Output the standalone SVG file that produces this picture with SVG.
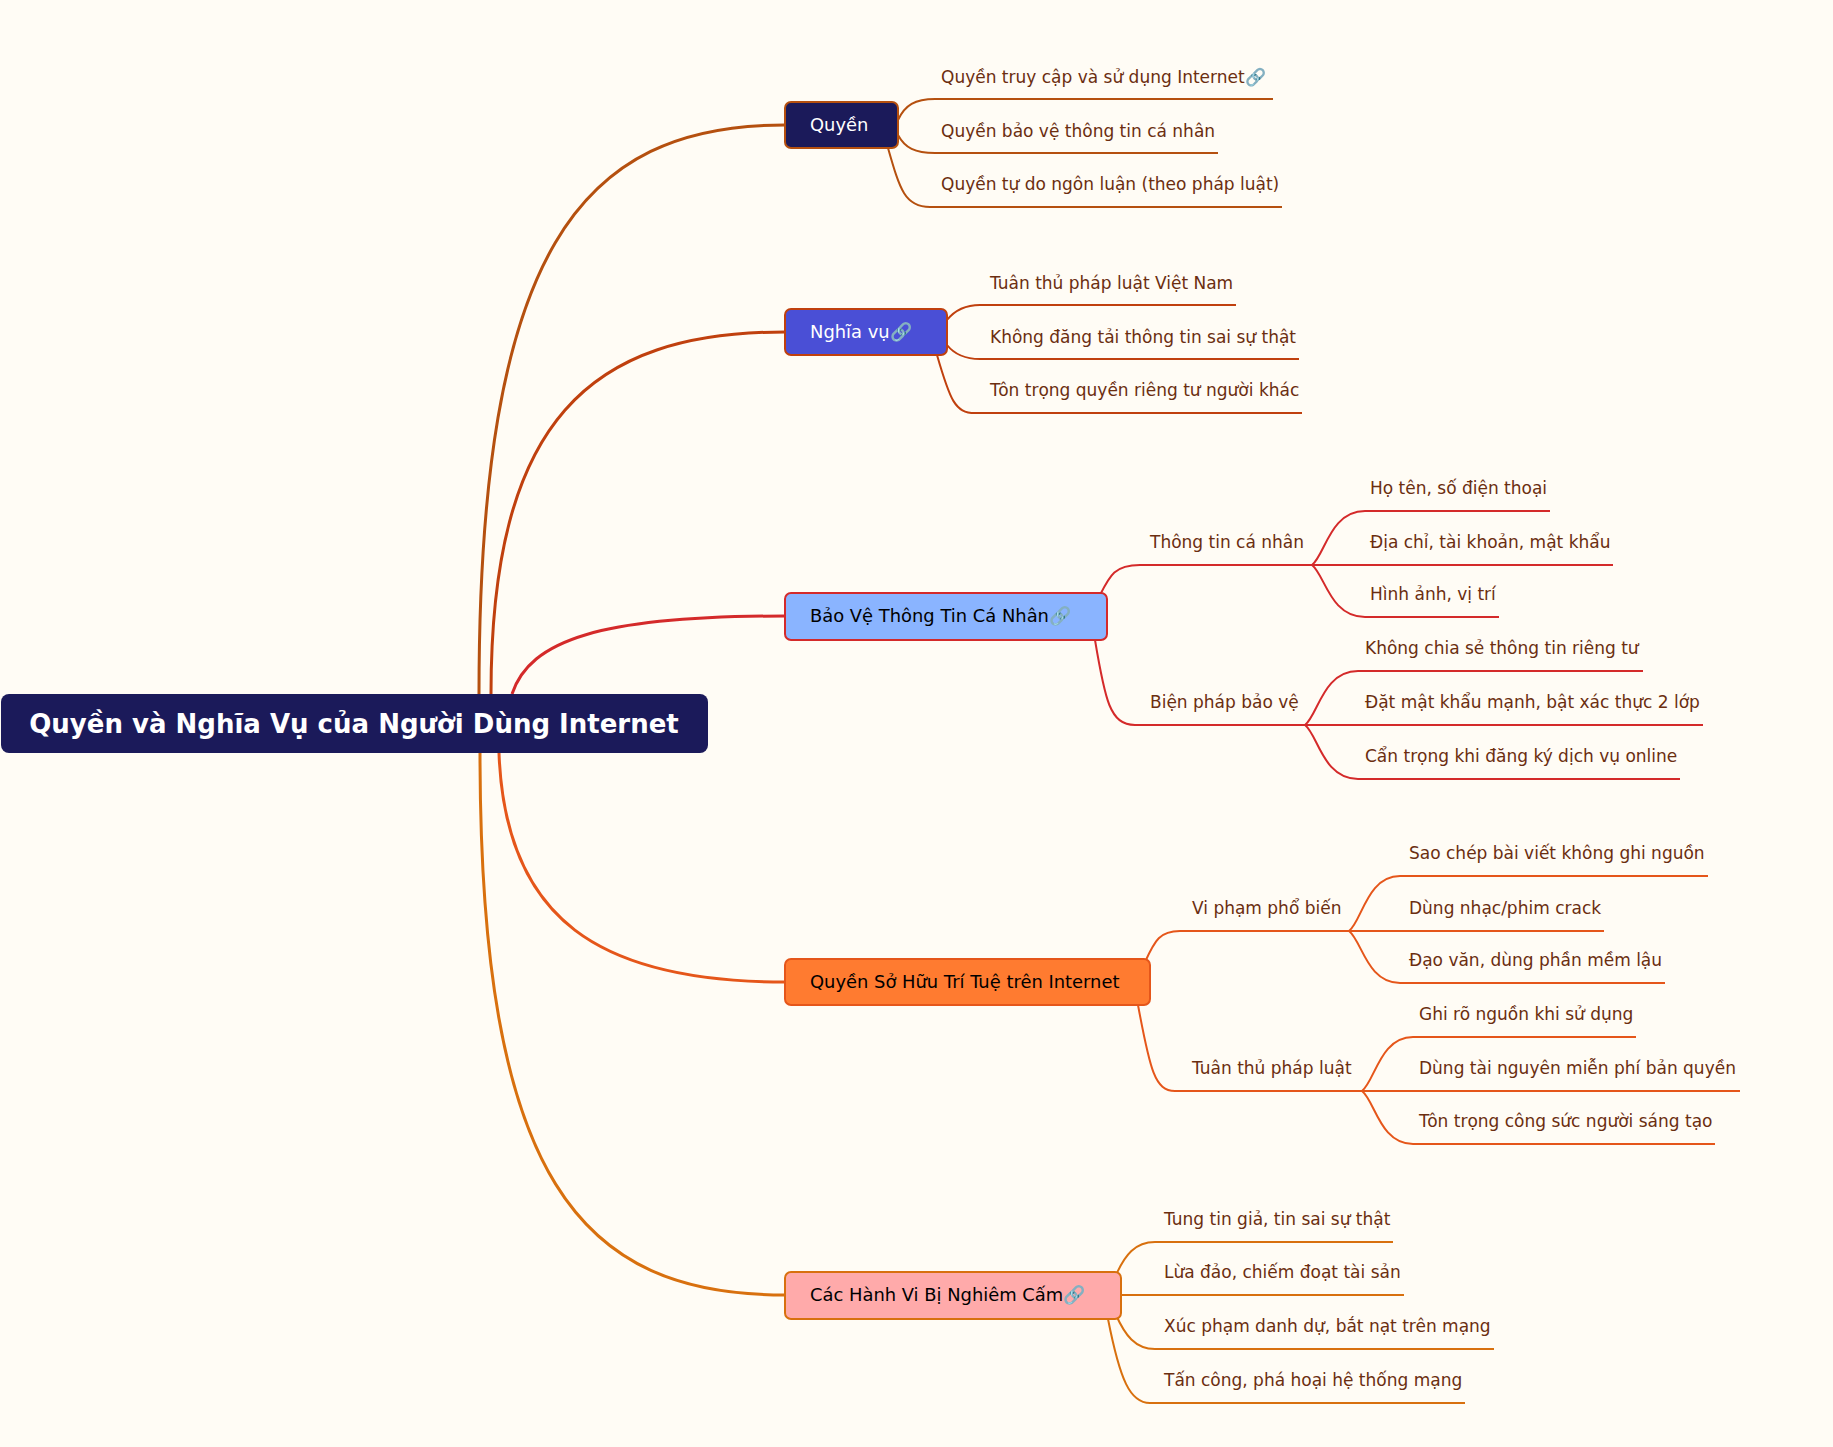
<svg xmlns="http://www.w3.org/2000/svg" width="1833" height="1447" viewBox="0 0 1833 1447">
<style>
text{font-family:"DejaVu Sans",sans-serif}
.leaf{font-size:17px;fill:#6b2e10}
.box{font-size:17.9px}
.c{fill:none;stroke-width:2}
.m{fill:none;stroke-width:3}
</style>
<rect width="1833" height="1447" fill="#fffcf5"/>
<g id="connectors">
<path class="m" stroke="#b5500f" d="M479 694 C479 250 580 125 785 125"/>
<path class="m" stroke="#c0400e" d="M491 694 C491 420 590 332 785 332"/>
<path class="m" stroke="#d42a2a" d="M512 694 C530 640 600 616 785 616"/>
<path class="m" stroke="#e5561a" d="M499 753 C505 920 600 982 785 982"/>
<path class="m" stroke="#d8700e" d="M480 753 C480 1180 580 1295 785 1295"/>
<g stroke="#b5500f">
<path class="c" d="M898 120 C905 105 915 99 935 99 L1273 99"/>
<path class="c" d="M898 135 C905 148 915 153 935 153 L1218 153"/>
<path class="c" d="M888 148 C900 190 905 207 930 207 L1282 207"/>
</g>
<g stroke="#c0400e">
<path class="c" d="M947 320 C955 310 965 305 980 305 L1236 305"/>
<path class="c" d="M947 345 C955 355 965 359 980 359 L1299 359"/>
<path class="c" d="M937 355 C950 400 955 413 975 413 L1302 413"/>
</g>
<g stroke="#d42a2a">
<path class="c" d="M1100 595 C1110 575 1115 565 1140 565 L1312 565"/>
<path class="c" d="M1095 640 C1105 700 1110 725 1135 725 L1305 725"/>
<path class="c" d="M1312 565 C1325 555 1330 511 1365 511 L1550 511"/>
<path class="c" d="M1312 565 L1613 565"/>
<path class="c" d="M1312 565 C1325 575 1330 617 1365 617 L1499 617"/>
<path class="c" d="M1305 725 C1318 715 1323 671 1358 671 L1643 671"/>
<path class="c" d="M1305 725 L1703 725"/>
<path class="c" d="M1305 725 C1318 735 1323 779 1358 779 L1680 779"/>
</g>
<g stroke="#e5561a">
<path class="c" d="M1145 962 C1155 940 1160 931 1180 931 L1349 931"/>
<path class="c" d="M1138 1005 C1150 1070 1155 1091 1175 1091 L1362 1091"/>
<path class="c" d="M1349 931 C1362 921 1367 876 1400 876 L1708 876"/>
<path class="c" d="M1349 931 L1604 931"/>
<path class="c" d="M1349 931 C1362 941 1367 983 1400 983 L1665 983"/>
<path class="c" d="M1362 1091 C1375 1081 1380 1037 1413 1037 L1636 1037"/>
<path class="c" d="M1362 1091 L1740 1091"/>
<path class="c" d="M1362 1091 C1375 1101 1380 1144 1413 1144 L1715 1144"/>
</g>
<g stroke="#d8700e">
<path class="c" d="M1116 1275 C1125 1255 1135 1242 1155 1242 L1393 1242"/>
<path class="c" d="M1121 1295 L1404 1295"/>
<path class="c" d="M1116 1315 C1125 1335 1135 1349 1155 1349 L1494 1349"/>
<path class="c" d="M1108 1319 C1120 1380 1130 1403 1150 1403 L1465 1403"/>
</g>
</g>
<g id="root"><rect x="1" y="694" width="707" height="59" rx="8" fill="#1b1a5a"/><text x="354" y="733" text-anchor="middle" font-size="26" font-weight="bold" fill="#fff">Quyền và Nghĩa Vụ của Người Dùng Internet</text></g>
<g id="n1"><rect x="785" y="102" width="113" height="46" rx="6" fill="#1b1a5a" stroke="#b5500f" stroke-width="2"/><text class="box" x="810" y="131" fill="#fff">Quyền</text></g>
<g id="n2"><rect x="785" y="309" width="162" height="46" rx="6" fill="#4a4fd6" stroke="#c0400e" stroke-width="2"/><text class="box" x="810" y="338" fill="#fff">Nghĩa vụ🔗</text></g>
<g id="n3"><rect x="785" y="593" width="322" height="47" rx="6" fill="#8ab4ff" stroke="#d42a2a" stroke-width="2"/><text class="box" x="810" y="622" fill="#000">Bảo Vệ Thông Tin Cá Nhân🔗</text></g>
<g id="n4"><rect x="785" y="959" width="365" height="46" rx="6" fill="#ff7b30" stroke="#e5561a" stroke-width="2"/><text class="box" x="810" y="988" fill="#000">Quyền Sở Hữu Trí Tuệ trên Internet</text></g>
<g id="n5"><rect x="785" y="1272" width="336" height="47" rx="6" fill="#ffaaaa" stroke="#d8700e" stroke-width="2"/><text class="box" x="810" y="1301" fill="#000">Các Hành Vi Bị Nghiêm Cấm🔗</text></g>
<g id="leaves">
<text class="leaf" x="941" y="83">Quyền truy cập và sử dụng Internet🔗</text>
<text class="leaf" x="941" y="137">Quyền bảo vệ thông tin cá nhân</text>
<text class="leaf" x="941" y="190">Quyền tự do ngôn luận (theo pháp luật)</text>
<text class="leaf" x="990" y="289">Tuân thủ pháp luật Việt Nam</text>
<text class="leaf" x="990" y="343">Không đăng tải thông tin sai sự thật</text>
<text class="leaf" x="990" y="396">Tôn trọng quyền riêng tư người khác</text>
<text class="leaf" x="1150" y="548">Thông tin cá nhân</text>
<text class="leaf" x="1150" y="708">Biện pháp bảo vệ</text>
<text class="leaf" x="1370" y="494">Họ tên, số điện thoại</text>
<text class="leaf" x="1370" y="548">Địa chỉ, tài khoản, mật khẩu</text>
<text class="leaf" x="1370" y="600">Hình ảnh, vị trí</text>
<text class="leaf" x="1365" y="654">Không chia sẻ thông tin riêng tư</text>
<text class="leaf" x="1365" y="708">Đặt mật khẩu mạnh, bật xác thực 2 lớp</text>
<text class="leaf" x="1365" y="762">Cẩn trọng khi đăng ký dịch vụ online</text>
<text class="leaf" x="1192" y="914">Vi phạm phổ biến</text>
<text class="leaf" x="1192" y="1074">Tuân thủ pháp luật</text>
<text class="leaf" x="1409" y="859">Sao chép bài viết không ghi nguồn</text>
<text class="leaf" x="1409" y="914">Dùng nhạc/phim crack</text>
<text class="leaf" x="1409" y="966">Đạo văn, dùng phần mềm lậu</text>
<text class="leaf" x="1419" y="1020">Ghi rõ nguồn khi sử dụng</text>
<text class="leaf" x="1419" y="1074">Dùng tài nguyên miễn phí bản quyền</text>
<text class="leaf" x="1419" y="1127">Tôn trọng công sức người sáng tạo</text>
<text class="leaf" x="1164" y="1225">Tung tin giả, tin sai sự thật</text>
<text class="leaf" x="1164" y="1278">Lừa đảo, chiếm đoạt tài sản</text>
<text class="leaf" x="1164" y="1332">Xúc phạm danh dự, bắt nạt trên mạng</text>
<text class="leaf" x="1164" y="1386">Tấn công, phá hoại hệ thống mạng</text>
</g>
</svg>
